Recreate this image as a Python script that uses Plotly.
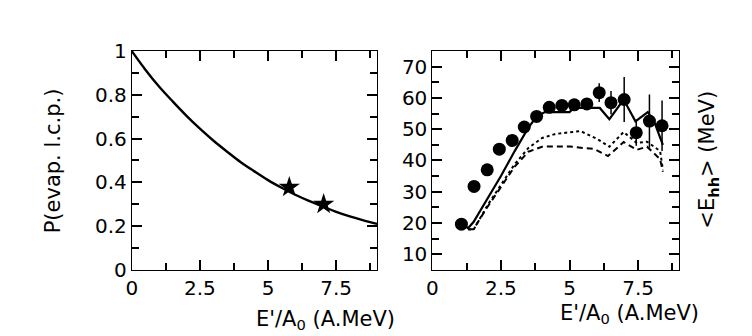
import plotly.graph_objects as go

# ---- left panel data ----
curve_x = [0, 0.5, 1, 1.5, 2, 2.5, 3, 3.5, 4, 4.5, 5, 5.5, 6, 6.5, 7, 7.5, 8, 8.5, 9]
curve_p = [1.0, 0.915, 0.838, 0.77, 0.705, 0.645, 0.59, 0.54, 0.492, 0.45, 0.41,
           0.375, 0.343, 0.315, 0.29, 0.265, 0.244, 0.226, 0.21]
star_x = [5.78, 7.04]
star_p = [0.378, 0.30]

# ---- right panel data ----
dat_x = [1.06, 1.52, 2.0, 2.44, 2.91, 3.35, 3.80, 4.26, 4.72, 5.17, 5.63, 6.08,
         6.51, 6.99, 7.43, 7.91, 8.37]
dat_e = [19.6, 31.7, 37.0, 43.6, 46.4, 50.7, 54.1, 57.0, 57.6, 57.8, 58.1, 61.7,
         58.5, 59.5, 48.9, 52.6, 51.1]
dat_err = [0.8, 0.8, 0.8, 0.8, 0.8, 0.8, 0.8, 0.8, 0.8, 0.8, 1.0, 3.0,
           3.7, 7.2, 4.2, 8.5, 8.1]

solid_x = [1.15, 1.3, 1.5, 2.0, 2.5, 3.0, 3.5, 3.8, 4.1, 4.5, 5.0, 5.15, 5.5, 6.1,
           6.45, 6.97, 7.4, 7.85, 8.1, 8.4]
solid_e = [19.5, 18.3, 20.3, 27.5, 35.0, 43.0, 50.5, 54.0, 55.5, 55.5, 55.5, 56.8,
           56.8, 56.8, 53.2, 59.5, 52.5, 55.5, 52.0, 45.0]

dot_x = [1.3, 1.5, 2.0, 2.5, 3.0, 3.5, 4.0, 4.5, 5.0, 5.4, 6.0, 6.45, 6.97, 7.45,
         7.82, 8.3, 8.4]
dot_e = [18.0, 17.8, 25.5, 32.0, 38.8, 44.0, 47.2, 48.5, 49.0, 49.4, 46.9, 44.4,
         49.1, 45.6, 46.0, 43.0, 37.0]

dash_x = [1.3, 1.5, 2.0, 2.5, 3.0, 3.5, 4.0, 4.5, 5.0, 5.5, 5.9, 6.4, 6.97, 7.45,
          7.82, 8.3, 8.4]
dash_e = [18.0, 18.0, 25.0, 31.5, 38.0, 42.8, 44.4, 44.5, 44.5, 44.0, 43.7, 41.4,
          45.9, 43.4, 44.4, 40.4, 36.4]

FONT = "DejaVu Sans"
W, H = 752, 336

fig = go.Figure()
fig.add_trace(go.Scatter(x=curve_x, y=curve_p, mode="lines",
                         line=dict(color="black", width=2.4, shape="spline"),
                         xaxis="x", yaxis="y", showlegend=False))
fig.add_trace(go.Scatter(x=star_x, y=star_p, mode="markers",
                         marker=dict(symbol="star", size=16, color="black"),
                         xaxis="x", yaxis="y", showlegend=False))

fig.add_trace(go.Scatter(x=dot_x, y=dot_e, mode="lines",
                         line=dict(color="black", width=2, dash="dot"),
                         xaxis="x2", yaxis="y2", showlegend=False))
fig.add_trace(go.Scatter(x=dash_x, y=dash_e, mode="lines",
                         line=dict(color="black", width=2, dash="6px,4px"),
                         xaxis="x2", yaxis="y2", showlegend=False))
fig.add_trace(go.Scatter(x=solid_x, y=solid_e, mode="lines",
                         line=dict(color="black", width=2.2),
                         xaxis="x2", yaxis="y2", showlegend=False))
fig.add_trace(go.Scatter(x=dat_x, y=dat_e, mode="markers",
                         marker=dict(symbol="circle", size=13, color="black"),
                         error_y=dict(type="data", array=dat_err, color="black",
                                      thickness=1.5, width=0),
                         xaxis="x2", yaxis="y2", showlegend=False))

def ax(domain, rng, dtick, tick0, minor_dtick):
    return dict(domain=domain, range=rng,
                showline=True, linecolor="black", mirror="allticks",
                ticks="inside", ticklen=10, tickwidth=2, tickcolor="black",
                dtick=dtick, tick0=tick0, zeroline=False,
                minor=dict(ticks="inside", ticklen=7, tickwidth=2, tickcolor="black",
                           dtick=minor_dtick),
                tickfont=dict(family=FONT, size=20, color="black"))

xl = [118.7 / W, 366 / W]
xr = [421.7 / W, 670.7 / W]
yd = [1 - 269 / H, 1 - 33.5 / H]

fig.update_layout(
    width=W, height=H,
    margin=dict(l=0, r=0, t=0, b=0),
    plot_bgcolor="white",
    xaxis=ax(xl, [0, 9], 2.5, 0, 1.25),
    yaxis=ax(yd, [0, 1], 0.2, 0, 0.1),
    xaxis2=dict(ax(xr, [0, 9], 2.5, 0, 1.25), anchor="y2"),
    yaxis2=dict(ax(yd, [5, 75], 10, 10, 5), anchor="x2"),
)

ann = [
    dict(text="P(evap. l.c.p.)", x=39.5 / W, y=1 - 152 / H, textangle=-90),
    dict(text="E'/A<sub>0</sub> (A.MeV)", x=314 / W, y=1 - 323 / H, textangle=0),
    dict(text="E'/A<sub>0</sub> (A.MeV)", x=620 / W, y=1 - 317 / H, textangle=0),
    dict(text="&lt;E<sub><b>hh</b></sub>&gt; (MeV)", x=700 / W, y=1 - 150 / H, textangle=-90),
]
fig.update_layout(annotations=[dict(a, xref="paper", yref="paper", showarrow=False,
                                    xanchor="center", yanchor="middle",
                                    font=dict(family=FONT, size=21, color="black"))
                               for a in ann])

fig.write_html("out.html")
